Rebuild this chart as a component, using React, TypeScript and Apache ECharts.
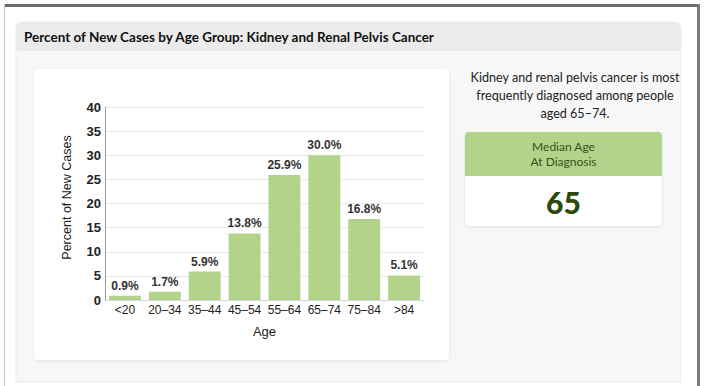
import React, { useEffect, useRef } from "react";
import * as echarts from "echarts";

const ageGroups = ["<20", "20–34", "35–44", "45–54", "55–64", "65–74", "75–84", ">84"];
const percentNewCases = [0.9, 1.7, 5.9, 13.8, 25.9, 30.0, 16.8, 5.1];
const yTicks = { min: 0, max: 40, interval: 5 };
const titleText = "Percent of New Cases by Age Group: Kidney and Renal Pelvis Cancer";
const summaryLines = [
  "Kidney and renal pelvis cancer is most",
  "frequently diagnosed among people",
  "aged 65–74.",
];
const medianLabelLines = ["Median Age", "At Diagnosis"];
const medianAge = "65";

const GREEN = "#b1d48a";
const UI_FONT = "Lato, 'Noto Sans', sans-serif";
const CHART_FONT = "'Liberation Sans', Arial, sans-serif";

export default function App() {
  const ref = useRef<HTMLDivElement>(null);
  useEffect(() => {
    if (!ref.current) return;
    const chart = echarts.init(ref.current, undefined, { renderer: "svg" });
    const graphic: any[] = [
      // outer frame
      { type: "rect", z: -10, shape: { x: 4, y: 4, width: 695, height: 382 }, style: { fill: "#ffffff" } },
      { type: "line", z: -9, shape: { x1: 4, y1: 5.5, x2: 700, y2: 5.5 }, style: { stroke: "#6d6d6d", lineWidth: 3 } },
      { type: "line", z: -9, shape: { x1: 698.5, y1: 4, x2: 698.5, y2: 386 }, style: { stroke: "#7a7a7a", lineWidth: 3 } },
      { type: "line", z: -9, shape: { x1: 4.5, y1: 4, x2: 4.5, y2: 386 }, style: { stroke: "#c8c8c8", lineWidth: 1 } },
      // card
      { type: "rect", z: -8, shape: { x: 16, y: 22, width: 665, height: 360, r: [6, 6, 0, 0] }, style: { fill: "#f7f7f7", stroke: "#ececec", lineWidth: 1 } },
      { type: "rect", z: -7, shape: { x: 16, y: 22, width: 665, height: 29, r: [6, 6, 0, 0] }, style: { fill: "#ebebeb" } },
      {
        type: "text", z: -6, x: 24, y: 37,
        style: { text: titleText, font: `bold 13.5px ${UI_FONT}`, fill: "#111", verticalAlign: "middle" },
      },
      // chart panel
      {
        type: "rect", z: -7, shape: { x: 34, y: 69, width: 415, height: 291, r: 4 },
        style: { fill: "#ffffff", shadowBlur: 3, shadowColor: "rgba(0,0,0,0.08)", shadowOffsetY: 1 },
      },
      // summary text
      ...summaryLines.map((t, i) => ({
        type: "text", z: -6, x: 575, y: 77 + i * 18,
        style: { text: t, font: `12.6px ${UI_FONT}`, fill: "#222", align: "center", verticalAlign: "middle" },
      })),
      // median box
      {
        type: "rect", z: -7, shape: { x: 465, y: 132, width: 197, height: 94, r: 4 },
        style: { fill: "#ffffff", shadowBlur: 3, shadowColor: "rgba(0,0,0,0.1)", shadowOffsetY: 1 },
      },
      { type: "rect", z: -6, shape: { x: 465, y: 132, width: 197, height: 44, r: [4, 4, 0, 0] }, style: { fill: GREEN } },
      ...medianLabelLines.map((t, i) => ({
        type: "text", z: -5, x: 563.5, y: 146 + i * 15,
        style: { text: t, font: `12px ${UI_FONT}`, fill: "#35521a", align: "center", verticalAlign: "middle" },
      })),
      {
        type: "text", z: -5, x: 563.5, y: 202,
        style: { text: medianAge, font: `900 30px ${UI_FONT}`, fill: "#2b4a0c", align: "center", verticalAlign: "middle" },
      },
    ];

    chart.setOption({
      animation: false,
      textStyle: { fontFamily: CHART_FONT },
      graphic,
      grid: { left: 105, top: 107, width: 319, height: 193, containLabel: false },
      xAxis: {
        type: "category",
        data: ageGroups,
        name: "Age",
        nameLocation: "middle",
        nameGap: 25,
        nameTextStyle: { fontSize: 13, color: "#222", fontFamily: CHART_FONT },
        axisLine: { show: true, lineStyle: { color: "#d8d8d8" } },
        axisTick: { show: false },
        axisLabel: { fontSize: 12, color: "#222", margin: 4, interval: 0, fontFamily: CHART_FONT },
      },
      yAxis: {
        type: "value",
        min: yTicks.min,
        max: yTicks.max,
        interval: yTicks.interval,
        name: "Percent of New Cases",
        nameLocation: "middle",
        nameGap: 32,
        nameTextStyle: { fontSize: 12.5, color: "#222", fontFamily: CHART_FONT, padding: [0, 0, 0, 12] },
        axisLine: { show: true, lineStyle: { color: "#999" } },
        axisTick: { show: false },
        axisLabel: { fontSize: 13, fontWeight: "bold", color: "#222", margin: 4, fontFamily: CHART_FONT },
        splitLine: { lineStyle: { color: "#e8e8e8" } },
      },
      series: [
        {
          type: "bar",
          data: percentNewCases,
          barCategoryGap: "20%",
          itemStyle: { color: GREEN },
          label: {
            show: true,
            position: "top",
            distance: 4,
            fontSize: 12,
            fontWeight: "bold",
            color: "#333",
            fontFamily: CHART_FONT,
            formatter: (p: any) => `${Number(p.value).toFixed(1)}%`,
          },
        },
      ],
    });
    return () => chart.dispose();
  }, []);
  return (
    <div
      ref={ref}
      style={{ position: "fixed", left: 0, top: 0, width: 705, height: 386, background: "#ffffff" }}
    />
  );
}
